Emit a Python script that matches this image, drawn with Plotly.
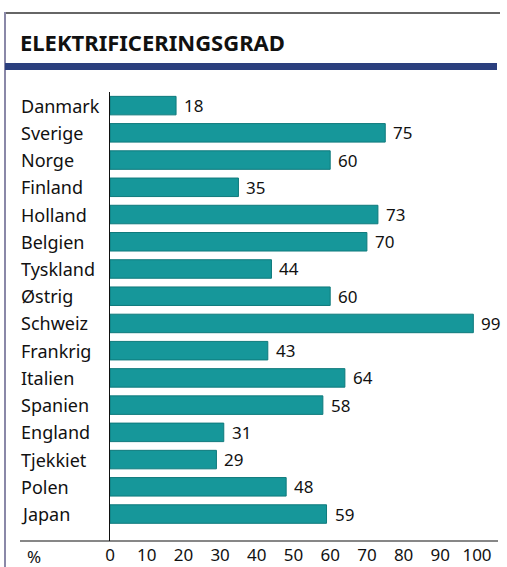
import plotly.graph_objects as go

# Elektrificeringsgrad (%) pr. land
lande = ["Danmark", "Sverige", "Norge", "Finland", "Holland", "Belgien",
         "Tyskland", "Østrig", "Schweiz", "Frankrig", "Italien", "Spanien",
         "England", "Tjekkiet", "Polen", "Japan"]
grad = [18, 75, 60, 35, 73, 70, 44, 60, 99, 43, 64, 58, 31, 29, 48, 59]
tick_vals = [0, 10, 20, 30, 40, 50, 60, 70, 80, 90, 100]

W, H = 507, 567
L, R, T, B = 110, 30, 92, 26
plot_w = W - L - R
plot_h = H - T - B

def px_x(px):
    return (px - L) / plot_w

def px_y(py):
    return 1 - (py - T) / plot_h

font = "Noto Sans, Open Sans, DejaVu Sans, sans-serif"

fig = go.Figure()
fig.add_trace(go.Bar(
    x=grad, y=lande, orientation="h",
    marker=dict(color="#16979a", line=dict(color="#0f7a7c", width=1)),
    width=0.68, hoverinfo="x+y",
))

annotations = []
# value labels after each bar
for land, v in zip(lande, grad):
    annotations.append(dict(x=v, y=land, xref="x", yref="y", text=str(v),
                            xanchor="left", yanchor="middle", xshift=6,
                            showarrow=False,
                            font=dict(family=font, size=17, color="#111")))
# left-aligned country names
for land in lande:
    annotations.append(dict(x=px_x(19), y=land, xref="paper", yref="y",
                            text=land, xanchor="left", yanchor="middle",
                            showarrow=False,
                            font=dict(family=font, size=18, color="#111")))
# title and unit
annotations.append(dict(x=px_x(18), y=px_y(42), xref="paper", yref="paper",
                        text="<b>ELEKTRIFICERINGSGRAD</b>", xanchor="left",
                        yanchor="middle", showarrow=False,
                        font=dict(family=font, size=22, color="#111")))
annotations.append(dict(x=px_x(25), y=px_y(556), xref="paper", yref="paper",
                        text="%", xanchor="left", yanchor="middle",
                        showarrow=False,
                        font=dict(family=font, size=17, color="#111")))

shapes = [
    # frame: top rule and left rule
    dict(type="line", xref="paper", yref="paper",
         x0=px_x(5), x1=px_x(500), y0=px_y(13), y1=px_y(13),
         line=dict(color="#333", width=1.5)),
    dict(type="line", xref="paper", yref="paper",
         x0=px_x(5), x1=px_x(5), y0=px_y(12), y1=px_y(567),
         line=dict(color="#8a88a8", width=2)),
    # blue band under the title
    dict(type="rect", xref="paper", yref="paper",
         x0=px_x(5), x1=px_x(497), y0=px_y(63), y1=px_y(70),
         fillcolor="#2b3f7e", line=dict(width=0)),
    # baseline
    dict(type="line", xref="paper", yref="paper",
         x0=px_x(20), x1=px_x(498), y0=0, y1=0,
         line=dict(color="#111", width=1.2)),
]

fig.update_layout(
    width=W, height=H,
    margin=dict(l=L, r=R, t=T, b=B, autoexpand=False),
    paper_bgcolor="white", plot_bgcolor="white",
    showlegend=False,
    annotations=annotations, shapes=shapes,
    font=dict(family=font, color="#111"),
    xaxis=dict(range=[0, 100], tickvals=tick_vals, showgrid=False,
               zeroline=False, showline=False, ticks="", automargin=False,
               ticklabelstandoff=2,
               tickfont=dict(family=font, size=17, color="#111")),
    yaxis=dict(categoryorder="array", categoryarray=lande,
               range=[15.99, -0.5], showticklabels=False, showgrid=False,
               zeroline=False, showline=True, linecolor="#111", linewidth=1,
               ticks="", automargin=False),
    bargap=0.3,
)

fig.write_html("out.html")
